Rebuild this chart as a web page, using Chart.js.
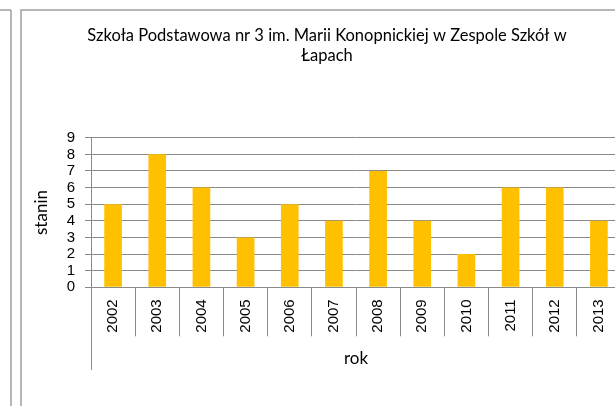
<!DOCTYPE html>
<html>
<head>
<meta charset="utf-8">
<script src="https://cdn.jsdelivr.net/npm/chart.js@4"></script>
<style>
  html, body { margin: 0; padding: 0; background: #fff; overflow: hidden; }
  #wrap { width: 625px; height: 406px; }
</style>
</head>
<body>
<div id="wrap"><canvas id="chart" width="625" height="406"></canvas></div>
<script>
// Data
const years = ['2002', '2003', '2004', '2005', '2006', '2007', '2008', '2009', '2010', '2011', '2012', '2013'];
const stanin = [5, 8, 6, 3, 5, 4, 7, 4, 2, 6, 6, 4];
const titleLines = ['Szkoła Podstawowa nr 3 im. Marii Konopnickiej w Zespole Szkół w', 'Łapach'];

const gridGray = '#8a8a8a';
const frameGray = '#a0a0a0';
const textFont = 'Lato, "Open Sans", sans-serif';
const tickFont = '"Liberation Sans", Arial, sans-serif';

// Draws the sheet frame lines and the long left category line
const framePlugin = {
    id: 'frame',
    beforeDraw(chart) {
        const c = chart.ctx;
        c.save();
        c.fillStyle = '#fff';
        c.fillRect(0, 0, chart.width, chart.height);
        c.strokeStyle = frameGray;
        c.lineWidth = 1.5;
        c.beginPath();
        c.moveTo(0, 10); c.lineTo(11, 10);
        c.moveTo(11, 10); c.lineTo(11, chart.height);
        c.moveTo(21, chart.height); c.lineTo(21, 10); c.lineTo(chart.width, 10);
        c.stroke();
        c.restore();
    },
    afterDraw(chart) {
        const c = chart.ctx;
        const a = chart.chartArea;
        c.save();
        c.strokeStyle = gridGray;
        c.lineWidth = 1;
        c.beginPath();
        c.moveTo(a.left + 0.5, a.bottom);
        c.lineTo(a.left + 0.5, 370);
        c.stroke();
        c.restore();
    }
};

const ctx = document.getElementById('chart').getContext('2d');
new Chart(ctx, {
    type: 'bar',
    data: {
        labels: years,
        datasets: [{
            data: stanin,
            backgroundColor: '#FFC000',
            barPercentage: 0.4,
            categoryPercentage: 1
        }]
    },
    options: {
        responsive: false,
        animation: false,
        layout: { padding: { left: 33, right: 4, top: 0, bottom: 0 } },
        plugins: {
            legend: { display: false },
            tooltip: { enabled: false },
            title: {
                display: true,
                text: titleLines,
                color: '#000',
                font: { family: textFont, size: 16.5, weight: 'normal', lineHeight: 1.25 },
                padding: { top: 25, bottom: 71.5 }
            }
        },
        scales: {
            x: {
                grid: {
                    offset: true,
                    drawOnChartArea: false,
                    color: gridGray,
                    tickLength: 49
                },
                border: { color: gridGray },
                ticks: {
                    color: '#000',
                    font: { family: tickFont, size: 15 },
                    minRotation: 90,
                    maxRotation: 90,
                    padding: -37,
                    autoSkip: false
                },
                title: {
                    display: true,
                    text: 'rok',
                    color: '#000',
                    font: { family: textFont, size: 17, lineHeight: 1 },
                    padding: { top: 0, bottom: 39 }
                },
                afterFit(s) { s.height = 118.7; }
            },
            y: {
                min: 0,
                max: 9,
                grid: { color: gridGray, tickLength: 6 },
                border: { color: gridGray },
                ticks: {
                    stepSize: 1,
                    autoSkip: false,
                    color: '#000',
                    font: { family: tickFont, size: 15 },
                    padding: 10
                },
                title: {
                    display: true,
                    text: 'stanin',
                    color: '#000',
                    font: { family: textFont, size: 17, lineHeight: 1 },
                    padding: { top: 0, bottom: 0 }
                },
                afterFit(s) { s.width = 58; }
            }
        }
    },
    plugins: [framePlugin]
});
</script>
</body>
</html>
